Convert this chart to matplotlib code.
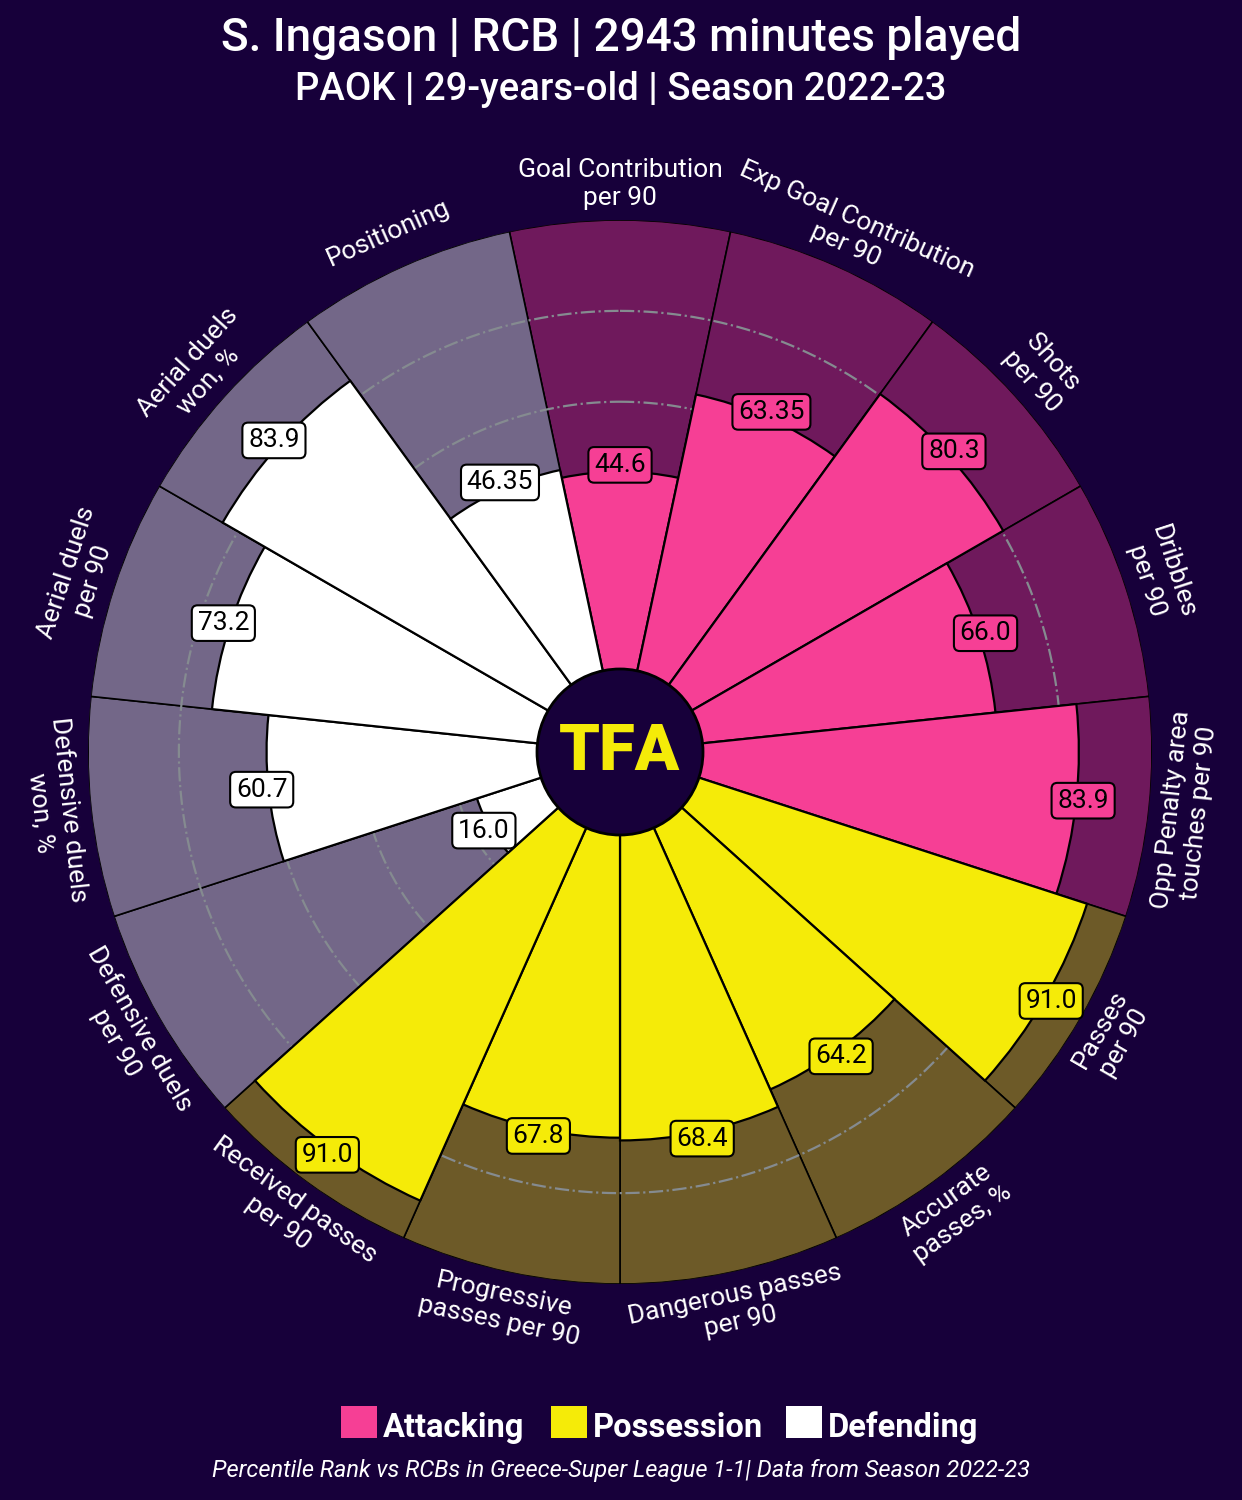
import numpy as np
import matplotlib
matplotlib.use("Agg")
import matplotlib.pyplot as plt
from matplotlib.patches import Circle, Rectangle

plt.rcParams['font.family'] = ['Roboto', 'DejaVu Sans']

params = ["Goal Contribution\nper 90", "Exp Goal Contribution\nper 90", "Shots\nper 90",
          "Dribbles\nper 90", "Opp Penalty area\ntouches per 90", "Passes\nper 90",
          "Accurate\npasses, %", "Dangerous passes\nper 90", "Progressive\npasses per 90",
          "Received passes\nper 90", "Defensive duels\nper 90", "Defensive duels\nwon, %",
          "Aerial duels\nper 90", "Aerial duels\nwon, %", "Positioning"]
values = [44.6, 63.35, 80.3, 66.0, 83.9, 91.0, 64.2, 68.4, 67.8, 91.0,
          16.0, 60.7, 73.2, 83.9, 46.35]
value_labels = ["44.6", "63.35", "80.3", "66.0", "83.9", "91.0", "64.2", "68.4", "67.8", "91.0",
                "16.0", "60.7", "73.2", "83.9", "46.35"]
groups = ["Attacking"] * 5 + ["Possession"] * 5 + ["Defending"] * 5

BG = "#17003a"
face = {"Attacking": "#f63f95", "Possession": "#f5eb08", "Defending": "#ffffff"}
back = {"Attacking": "#6f195c", "Possession": "#6d5a28", "Defending": "#736788"}

top = 100
fig = plt.figure(figsize=(12.42, 15), dpi=100)
fig.patch.set_facecolor(BG)
ax = fig.add_axes([88 / 1242, 216 / 1500, 1064 / 1242, 1064 / 1500], projection='polar')
ax.set_theta_direction(-1)
ax.set_theta_offset(np.pi / 2)
ax.set_rorigin(-17.1)
ax.set_ylim(0, top)
ax.set_axis_off()

n = len(params)
width = 2 * np.pi / n
theta = np.arange(n) * width

# background slices
ax.bar(theta, [top] * n, width=width, bottom=0, color=[back[g] for g in groups],
       edgecolor="black", linewidth=1.2, zorder=1)

# grid rings
t = np.linspace(0, 2 * np.pi, 600)
for r in [20, 40, 60, 80]:
    ax.plot(t, [r] * len(t), color="#858b90", linestyle="-.", linewidth=1.6, zorder=2)

# value slices
ax.bar(theta, values, width=width, bottom=0, color=[face[g] for g in groups],
       edgecolor="black", linewidth=1.6, zorder=3)

# value boxes
for th, v, lab, g in zip(theta, values, value_labels, groups):
    ax.text(th, v + 1.5, lab, ha="center", va="center", fontsize=19, color="black", zorder=5,
            bbox=dict(boxstyle="round,pad=0.22", facecolor=face[g], edgecolor="black", linewidth=1.5))

# parameter labels
for th, p in zip(theta, params):
    a = 90 - np.degrees(th)
    if np.sin(np.radians(a)) >= -1e-9:
        rot = a - 90
    else:
        rot = a + 90
    ax.text(th, 108, p, ha="center", va="center", rotation=rot, rotation_mode="anchor",
            fontsize=19, color="white", linespacing=1.2, zorder=5)

# centre circle with logo
ax.add_patch(Circle((0.5, 0.5), 83 / 1064, transform=ax.transAxes, facecolor=BG,
                    edgecolor="black", linewidth=2, zorder=6, clip_on=False))
ax.text(0.5, 0.5, "TFA", transform=ax.transAxes, ha="center", va="center",
        fontsize=47, fontweight="black", color=face["Possession"], zorder=7)

# titles
fig.text(0.5, 1 - 38 / 1500, "S. Ingason | RCB | 2943 minutes played", ha="center", va="center",
         fontsize=33, fontweight="medium", color="white")
fig.text(0.5, 1 - 89 / 1500, "PAOK | 29-years-old | Season 2022-23", ha="center", va="center",
         fontsize=27.5, fontweight="medium", color="white")

# legend
legend_items = [("Attacking", 341), ("Possession", 551), ("Defending", 786)]
for name, x in legend_items:
    fig.patches.append(Rectangle((x / 1242, 1 - 1438 / 1500), 36 / 1242, 32 / 1500,
                                 transform=fig.transFigure, facecolor=face[name],
                                 edgecolor="none"))
    fig.text((x + 42) / 1242, 1 - 1437 / 1500, name, ha="left", va="baseline",
             fontsize=23.5, fontweight="bold", color="white")

fig.text(0.5, 1 - 1470 / 1500,
         "Percentile Rank vs RCBs in Greece-Super League 1-1| Data from Season 2022-23",
         ha="center", va="center", fontsize=17, fontstyle="italic", color="white")

fig.savefig("out.png", dpi=100, facecolor=BG)
